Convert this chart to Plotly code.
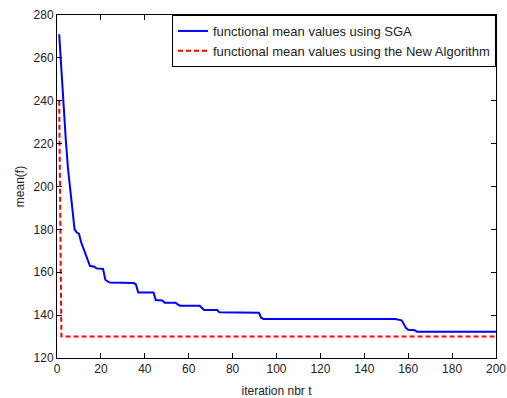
import plotly.graph_objects as go

# SGA functional mean values (breakpoints, drawn with straight segments)
t_sga = [1, 2, 3, 4, 5, 6, 7, 8, 9, 10, 11, 12, 13, 14, 15, 17, 18, 21, 22, 23, 24,
         35, 36, 37, 44, 45, 48, 49, 54, 55, 56, 65, 66, 67, 73, 74, 92, 93, 94,
         154, 157, 158, 159, 160, 163, 164, 200]
mean_sga = [271, 253, 235, 222, 208.5, 199, 187, 180, 178.5, 178, 174, 171, 168, 166, 163,
            162.6, 161.8, 161.5, 156.5, 155.8, 155.2, 155, 154.2, 150.5, 150.5, 147,
            146.8, 145.8, 145.8, 145, 144.4, 144.4, 143.5, 142.4, 142.4, 141.3, 141.1,
            138.8, 138.2, 138.2, 137.6, 135.5, 134, 133.2, 133, 132.3, 132.3]

# New Algorithm functional mean values
t_new = [1, 2, 200]
mean_new = [240, 130, 130]

x_ticks = list(range(0, 201, 20))
y_ticks = list(range(120, 281, 20))

FONT = "Liberation Sans, Arial, sans-serif"
TXT = "#222222"

fig = go.Figure()
fig.add_trace(go.Scatter(
    x=t_sga, y=mean_sga, mode="lines",
    line=dict(color="#0000FF", width=2),
    name="functional mean values using SGA",
))
fig.add_trace(go.Scatter(
    x=t_new, y=mean_new, mode="lines",
    line=dict(color="#FF0000", width=2, dash="5px,3px"),
    name="functional mean values using the New Algorithm",
))

axis_common = dict(
    showgrid=False, zeroline=False, showline=True, linecolor="black", linewidth=1,
    mirror="allticks", ticks="inside", ticklen=5, tickcolor="black", tickwidth=1,
    tickfont=dict(family=FONT, size=12, color=TXT),
    ticklabeloverflow="allow", automargin=False,
)

fig.update_layout(
    width=507, height=398,
    margin=dict(l=57, r=11, t=15, b=40),
    paper_bgcolor="white", plot_bgcolor="white",
    font=dict(family=FONT, size=12, color=TXT),
    xaxis=dict(range=[0, 200], tickvals=x_ticks, ticktext=[str(v) for v in x_ticks],
               title=dict(text="iteration nbr t", font=dict(family=FONT, size=12, color=TXT), standoff=13),
               **axis_common),
    yaxis=dict(range=[120, 280], tickvals=y_ticks, ticktext=[str(v) for v in y_ticks],
               title=dict(text="mean(f)", font=dict(family=FONT, size=12, color=TXT), standoff=6),
               **axis_common),
    legend=dict(x=1, y=1, xanchor="right", yanchor="top",
                bgcolor="white", bordercolor="black", borderwidth=1,
                font=dict(family=FONT, size=13, color=TXT),
                itemwidth=30, tracegroupgap=0),
    showlegend=True,
)

fig.write_html("out.html", config={"displayModeBar": False},
               post_script="document.body.style.margin='0';")
